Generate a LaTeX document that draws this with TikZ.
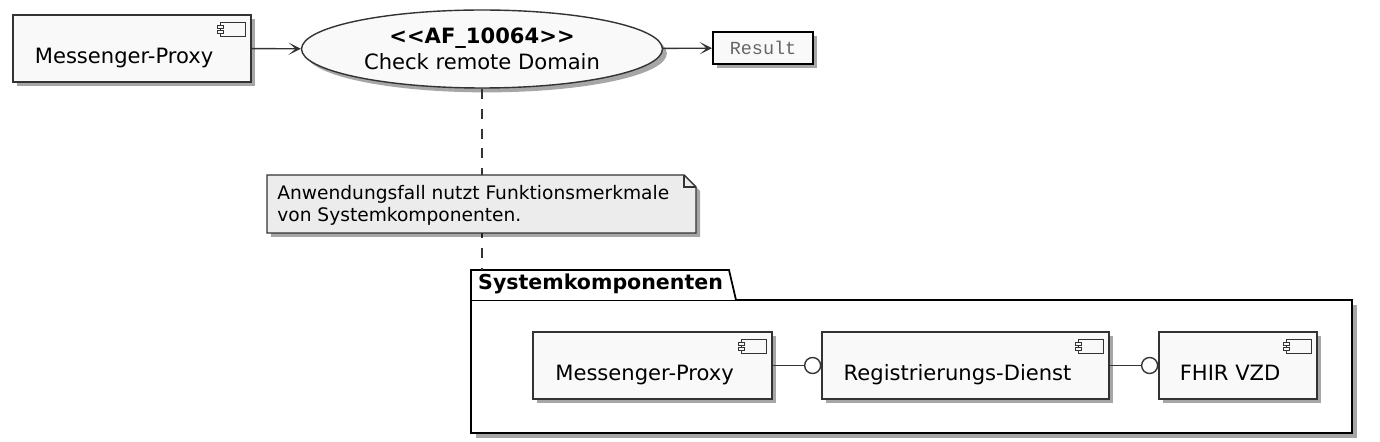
\documentclass[tikz,border=0pt]{standalone}
\usepackage{fontspec}
\setmainfont{DejaVu Sans}
\setmonofont{Liberation Mono}
\usetikzlibrary{positioning,shadows,shapes.geometric,arrows.meta}

\begin{document}
\begin{tikzpicture}[x=0.02cm, y=-0.02cm,
    shade/.style={drop shadow={shadow xshift=2.5pt, shadow yshift=-2.5pt, opacity=0.35, fill=black}},
    component/.style={rectangle, draw=black!80, fill=gray!5, line width=0.8pt, minimum height=1.34cm, text height=17pt, text depth=0pt, font=\fontsize{12}{14}\selectfont, execute at end node={\hspace{9pt}}, shade},
    usecase/.style={ellipse, draw=black!80, fill=gray!5, line width=0.8pt, minimum width=7.22cm, minimum height=1.56cm, align=center, font=\fontsize{12}{15}\selectfont, shade},
    artifact/.style={rectangle, draw=black, fill=gray!5, line width=1.2pt, minimum width=2cm, minimum height=0.64cm, font=\ttfamily\fontsize{10.5}{12}\selectfont, text=black!60, shade},
    iface/.style={circle, draw=black!80, fill=white, line width=0.8pt, minimum size=0.32cm, inner sep=0pt},
    link/.style={-{Stealth[length=7pt, width=7pt, inset=4pt]}, draw=black!80, line width=0.8pt},
    note/.style={draw=black!80, line width=0.6pt, dash pattern=on 5.67pt off 5.67pt}
]
    \useasboundingbox (0,0) rectangle (1380,442);

    % Package
    \fill[black, opacity=0.35] (476,305) rectangle (1357,438);
    \draw[fill=white, line width=1pt] (471,300) rectangle (1352,433);
    \draw[fill=white, line width=1pt] (471,300) -- (471,270) -- (729,270) -- (736,300);
    \node[font=\bfseries\fontsize{11.7}{14}\selectfont, anchor=west] (pkgtab) at (472,284) {Systemkomponenten};
    \coordinate (pkgtop) at (482,270);

    % Use case and actors
    \node[component, minimum width=4.76cm] (mp) at (132,48.5) {Messenger-Proxy};
    \node[usecase] (uc) at (482,49) {\textbf{{<}{<}AF\_10064{>}{>}}\\Check remote Domain};
    \node[artifact] (result) at (763,48) {Result};

    % Note
    \draw[note] (uc.south) -- (pkgtop);
    \fill[black, opacity=0.35] (271,179) -- (688,179) -- (700,191) -- (700,237) -- (271,237) -- cycle;
    \draw[fill=gray!15, draw=black!80, line width=0.8pt] (267,175) -- (684,175) -- (696,187) -- (696,233) -- (267,233) -- cycle;
    \draw[black!80, line width=0.6pt] (684,175) -- (684,187) -- (696,187);
    \node[anchor=north west, align=left, inner sep=0pt, font=\fontsize{10.6}{12.8}\selectfont] (note) at (277,185) {Anwendungsfall nutzt Funktionsmerkmale\\von Systemkomponenten.};

    % Components
    \node[component, minimum width=4.78cm] (mp2) at (652.5,365.5) {Messenger-Proxy};
    \node[component, minimum width=5.74cm] (reg) at (965.5,365.5) {Registrierungs-Dienst};
    \node[component, minimum width=3.16cm] (fhir) at (1238,365.5) {FHIR VZD};
    \node[iface, left=0pt of reg] (ifc1) {};
    \node[iface, left=0pt of fhir] (ifc2) {};

    % Icons
    \foreach \c in {mp, mp2, reg, fhir} {
        \draw[black!80, fill=gray!5, line width=0.7pt, shift={(\c.north east)}] (-31,8) rectangle (-6,22);
        \draw[black!80, fill=gray!5, line width=0.6pt, shift={(\c.north east)}] (-34,11) rectangle (-28,14);
        \draw[black!80, fill=gray!5, line width=0.6pt, shift={(\c.north east)}] (-34,16) rectangle (-28,19);
    }

    % Connections
    \draw[link] (mp) -- (uc);
    \draw[link] (uc) -- (result);
    \draw[black!80, line width=0.8pt] (mp2) -- (ifc1);
    \draw[black!80, line width=0.8pt] (reg) -- (ifc2);
\end{tikzpicture}
\end{document}
